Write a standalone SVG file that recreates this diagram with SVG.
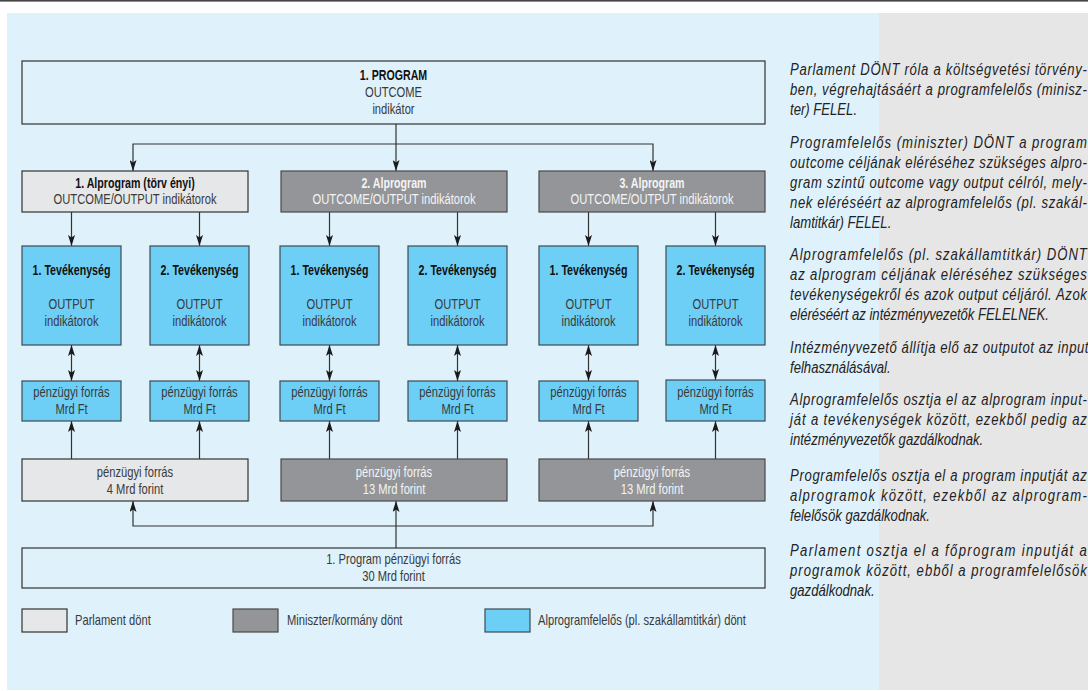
<svg xmlns="http://www.w3.org/2000/svg" width="1088" height="691" viewBox="0 0 1088 691">
  <defs>
    <style>
      text { font-family: "Liberation Sans", Arial, sans-serif; }
      .box { stroke: #333; stroke-width: 1.2; }
      .plain { fill: none; }
      .light { fill: #e6e7e8; }
      .dark { fill: #939598; stroke: #4a4a4a; }
      .blue { fill: #6dcff6; stroke: #3f4a52; }
      /* condensed look: Arial metrics squeezed horizontally */
      .t, .tb { text-anchor: middle; transform-box: fill-box; transform-origin: center; }
      .t { font-size: 13.8px; fill: #3a3a3a; transform: scaleX(0.81); }
      .tb { font-size: 14px; font-weight: bold; fill: #111; transform: scaleX(0.76); }
      .w { fill: #f4f4f4; }
      .legend { font-size: 13.8px; fill: #3a3a3a; transform-box: fill-box; transform-origin: left center; transform: scaleX(0.81); }
      .note { font-size: 16px; font-style: italic; fill: #222; }
      .conn path { fill: none; stroke: #333; stroke-width: 1.2; }
    </style>
    <marker id="ah" viewBox="0 0 11 7" refX="11" refY="3.5" markerWidth="11" markerHeight="7" markerUnits="userSpaceOnUse" orient="auto-start-reverse">
      <path d="M0,0 L11,3.5 L0,7 L2.5,3.5 Z" fill="#1a1a1a"/>
    </marker>
  </defs>

  <!-- page background -->
  <rect x="0" y="0" width="1088" height="691" fill="#ffffff"/>
  <rect x="0" y="0" width="1088" height="1.6" fill="#444"/>
  <rect x="7" y="13" width="872" height="677" fill="#dff1fb"/>
  <rect x="879" y="13" width="209" height="677" fill="#e6e6e6"/>

  <!-- connectors -->
  <g id="connectors" class="conn">
    <path d="M396,124 V171" marker-end="url(#ah)"/>
    <path d="M133,171 V144 H653 V171" marker-start="url(#ah)" marker-end="url(#ah)"/>

    <path d="M71.5,212 V246" marker-end="url(#ah)"/>
    <path d="M199.5,212 V246" marker-end="url(#ah)"/>
    <path d="M329.5,212 V246" marker-end="url(#ah)"/>
    <path d="M457.5,212 V246" marker-end="url(#ah)"/>
    <path d="M588.5,212 V246" marker-end="url(#ah)"/>
    <path d="M715.5,212 V246" marker-end="url(#ah)"/>

    <path d="M71.5,345 V381" marker-start="url(#ah)" marker-end="url(#ah)"/>
    <path d="M199.5,345 V381" marker-start="url(#ah)" marker-end="url(#ah)"/>
    <path d="M329.5,345 V381" marker-start="url(#ah)" marker-end="url(#ah)"/>
    <path d="M457.5,345 V381" marker-start="url(#ah)" marker-end="url(#ah)"/>
    <path d="M588.5,345 V381" marker-start="url(#ah)" marker-end="url(#ah)"/>
    <path d="M715.5,345 V380" marker-start="url(#ah)" marker-end="url(#ah)"/>

    <path d="M71.5,459 V421" marker-end="url(#ah)"/>
    <path d="M199.5,459 V421" marker-end="url(#ah)"/>
    <path d="M329.5,459 V421" marker-end="url(#ah)"/>
    <path d="M457.5,459 V421" marker-end="url(#ah)"/>
    <path d="M588.5,459 V421" marker-end="url(#ah)"/>
    <path d="M715.5,459 V421" marker-end="url(#ah)"/>

    <path d="M396,548 V501" marker-end="url(#ah)"/>
    <path d="M133,501 V526 H653 V501" marker-start="url(#ah)" marker-end="url(#ah)"/>
  </g>

  <!-- program -->
  <g id="program">
    <rect class="box plain" x="22" y="61" width="743" height="63"/>
    <text class="tb" x="393.5" y="80">1. PROGRAM</text>
    <text class="t" x="393.5" y="97.5">OUTCOME</text>
    <text class="t" x="393.5" y="114.5">indikátor</text>
  </g>

  <!-- subprograms -->
  <g id="alprogram-1">
    <rect class="box light" x="22" y="171" width="226" height="41"/>
    <text class="tb" x="135" y="188">1. Alprogram (törv ényi)</text>
    <text class="t" x="135" y="204">OUTCOME/OUTPUT indikátorok</text>
  </g>
  <g id="alprogram-2">
    <rect class="box dark" x="281" y="171" width="226" height="41"/>
    <text class="tb w" x="394" y="188">2. Alprogram</text>
    <text class="t w" x="394" y="204">OUTCOME/OUTPUT indikátorok</text>
  </g>
  <g id="alprogram-3">
    <rect class="box dark" x="539" y="171" width="226" height="41"/>
    <text class="tb w" x="652" y="188">3. Alprogram</text>
    <text class="t w" x="652" y="204">OUTCOME/OUTPUT indikátorok</text>
  </g>

  <!-- activities -->
  <g id="tev-1-1">
    <rect class="box blue" x="22" y="246" width="99" height="99"/>
    <text class="tb" x="71.5" y="275">1. Tevékenység</text>
    <text class="t" x="71.5" y="309">OUTPUT</text>
    <text class="t" x="71.5" y="326">indikátorok</text>
  </g>
  <g id="tev-1-2">
    <rect class="box blue" x="150" y="246" width="99" height="99"/>
    <text class="tb" x="199.5" y="275">2. Tevékenység</text>
    <text class="t" x="199.5" y="309">OUTPUT</text>
    <text class="t" x="199.5" y="326">indikátorok</text>
  </g>
  <g id="tev-2-1">
    <rect class="box blue" x="280" y="246" width="99" height="99"/>
    <text class="tb" x="329.5" y="275">1. Tevékenység</text>
    <text class="t" x="329.5" y="309">OUTPUT</text>
    <text class="t" x="329.5" y="326">indikátorok</text>
  </g>
  <g id="tev-2-2">
    <rect class="box blue" x="408" y="246" width="99" height="99"/>
    <text class="tb" x="457.5" y="275">2. Tevékenység</text>
    <text class="t" x="457.5" y="309">OUTPUT</text>
    <text class="t" x="457.5" y="326">indikátorok</text>
  </g>
  <g id="tev-3-1">
    <rect class="box blue" x="539" y="246" width="99" height="99"/>
    <text class="tb" x="588.5" y="275">1. Tevékenység</text>
    <text class="t" x="588.5" y="309">OUTPUT</text>
    <text class="t" x="588.5" y="326">indikátorok</text>
  </g>
  <g id="tev-3-2">
    <rect class="box blue" x="666" y="246" width="99" height="99"/>
    <text class="tb" x="715.5" y="275">2. Tevékenység</text>
    <text class="t" x="715.5" y="309">OUTPUT</text>
    <text class="t" x="715.5" y="326">indikátorok</text>
  </g>

  <!-- activity funding -->
  <g id="forras-1-1">
    <rect class="box blue" x="22" y="381" width="99" height="40"/>
    <text class="t" x="71.5" y="397.5">pénzügyi forrás</text>
    <text class="t" x="71.5" y="414">Mrd Ft</text>
  </g>
  <g id="forras-1-2">
    <rect class="box blue" x="150" y="381" width="99" height="40"/>
    <text class="t" x="199.5" y="397.5">pénzügyi forrás</text>
    <text class="t" x="199.5" y="414">Mrd Ft</text>
  </g>
  <g id="forras-2-1">
    <rect class="box blue" x="280" y="381" width="99" height="40"/>
    <text class="t" x="329.5" y="397.5">pénzügyi forrás</text>
    <text class="t" x="329.5" y="414">Mrd Ft</text>
  </g>
  <g id="forras-2-2">
    <rect class="box blue" x="408" y="381" width="99" height="40"/>
    <text class="t" x="457.5" y="397.5">pénzügyi forrás</text>
    <text class="t" x="457.5" y="414">Mrd Ft</text>
  </g>
  <g id="forras-3-1">
    <rect class="box blue" x="539" y="381" width="99" height="40"/>
    <text class="t" x="588.5" y="397.5">pénzügyi forrás</text>
    <text class="t" x="588.5" y="414">Mrd Ft</text>
  </g>
  <g id="forras-3-2">
    <rect class="box blue" x="666" y="380" width="99" height="41"/>
    <text class="t" x="715.5" y="397.5">pénzügyi forrás</text>
    <text class="t" x="715.5" y="414">Mrd Ft</text>
  </g>

  <!-- subprogram funding -->
  <g id="alprogram-forras-1">
    <rect class="box light" x="22" y="459" width="226" height="42"/>
    <text class="t" x="135" y="477.5">pénzügyi forrás</text>
    <text class="t" x="135" y="494">4 Mrd forint</text>
  </g>
  <g id="alprogram-forras-2">
    <rect class="box dark" x="281" y="459" width="226" height="42"/>
    <text class="t w" x="394" y="477.5">pénzügyi forrás</text>
    <text class="t w" x="394" y="494">13 Mrd forint</text>
  </g>
  <g id="alprogram-forras-3">
    <rect class="box dark" x="539" y="459" width="226" height="42"/>
    <text class="t w" x="652" y="477.5">pénzügyi forrás</text>
    <text class="t w" x="652" y="494">13 Mrd forint</text>
  </g>

  <!-- programme funding -->
  <g id="program-forras">
    <rect class="box plain" x="22" y="548" width="743" height="40"/>
    <text class="t" x="393.5" y="564">1. Program pénzügyi forrás</text>
    <text class="t" x="393.5" y="581.5">30 Mrd forint</text>
  </g>

  <!-- legend -->
  <g id="legend">
    <rect class="box light" x="22" y="609" width="45" height="23"/>
    <text class="legend" x="75" y="625">Parlament dönt</text>
    <rect class="box dark" x="233" y="609" width="45" height="23"/>
    <text class="legend" x="287" y="625">Miniszter/kormány dönt</text>
    <rect class="box blue" x="485" y="609" width="45" height="23"/>
    <text class="legend" x="538" y="625">Alprogramfelelős (pl. szakállamtitkár) dönt</text>
  </g>

  <!-- explanatory notes, set condensed by a horizontal squeeze -->
  <g id="notes" class="note" transform="translate(790 0) scale(0.82 1)">
    <text x="0" y="75" textLength="362" lengthAdjust="spacing">Parlament DÖNT róla a költségvetési törvény-</text>
    <text x="0" y="95" textLength="362" lengthAdjust="spacing">ben, végrehajtásáért a programfelelős (minisz-</text>
    <text x="0" y="115">ter) FELEL.</text>

    <text x="0" y="148" textLength="362" lengthAdjust="spacing">Programfelelős (miniszter) DÖNT a program</text>
    <text x="0" y="168" textLength="362" lengthAdjust="spacing">outcome céljának eléréséhez szükséges alpro-</text>
    <text x="0" y="188" textLength="362" lengthAdjust="spacing">gram szintű outcome vagy output célról, mely-</text>
    <text x="0" y="208" textLength="362" lengthAdjust="spacing">nek eléréséért az alprogramfelelős (pl. szakál-</text>
    <text x="0" y="228">lamtitkár) FELEL.</text>

    <text x="0" y="260" textLength="362" lengthAdjust="spacing">Alprogramfelelős (pl. szakállamtitkár) DÖNT</text>
    <text x="0" y="280" textLength="362" lengthAdjust="spacing">az alprogram céljának eléréséhez szükséges</text>
    <text x="0" y="300" textLength="362" lengthAdjust="spacing">tevékenységekről és azok output céljáról. Azok</text>
    <text x="0" y="320">eléréséért az intézményvezetők FELELNEK.</text>

    <text x="0" y="353" textLength="364" lengthAdjust="spacing">Intézményvezető állítja elő az outputot az input</text>
    <text x="0" y="373">felhasználásával.</text>

    <text x="0" y="405" textLength="362" lengthAdjust="spacing">Alprogramfelelős osztja el az alprogram input-</text>
    <text x="0" y="425" textLength="362" lengthAdjust="spacing">ját a tevékenységek között, ezekből pedig az</text>
    <text x="0" y="445">intézményvezetők gazdálkodnak.</text>

    <text x="0" y="481" textLength="362" lengthAdjust="spacing">Programfelelős osztja el a program inputját az</text>
    <text x="0" y="501" textLength="362" lengthAdjust="spacing">alprogramok között, ezekből az alprogram-</text>
    <text x="0" y="521">felelősök gazdálkodnak.</text>

    <text x="0" y="556" textLength="362" lengthAdjust="spacing">Parlament osztja el a főprogram inputját a</text>
    <text x="0" y="576" textLength="362" lengthAdjust="spacing">programok között, ebből a programfelelősök</text>
    <text x="0" y="596">gazdálkodnak.</text>
  </g>
</svg>
